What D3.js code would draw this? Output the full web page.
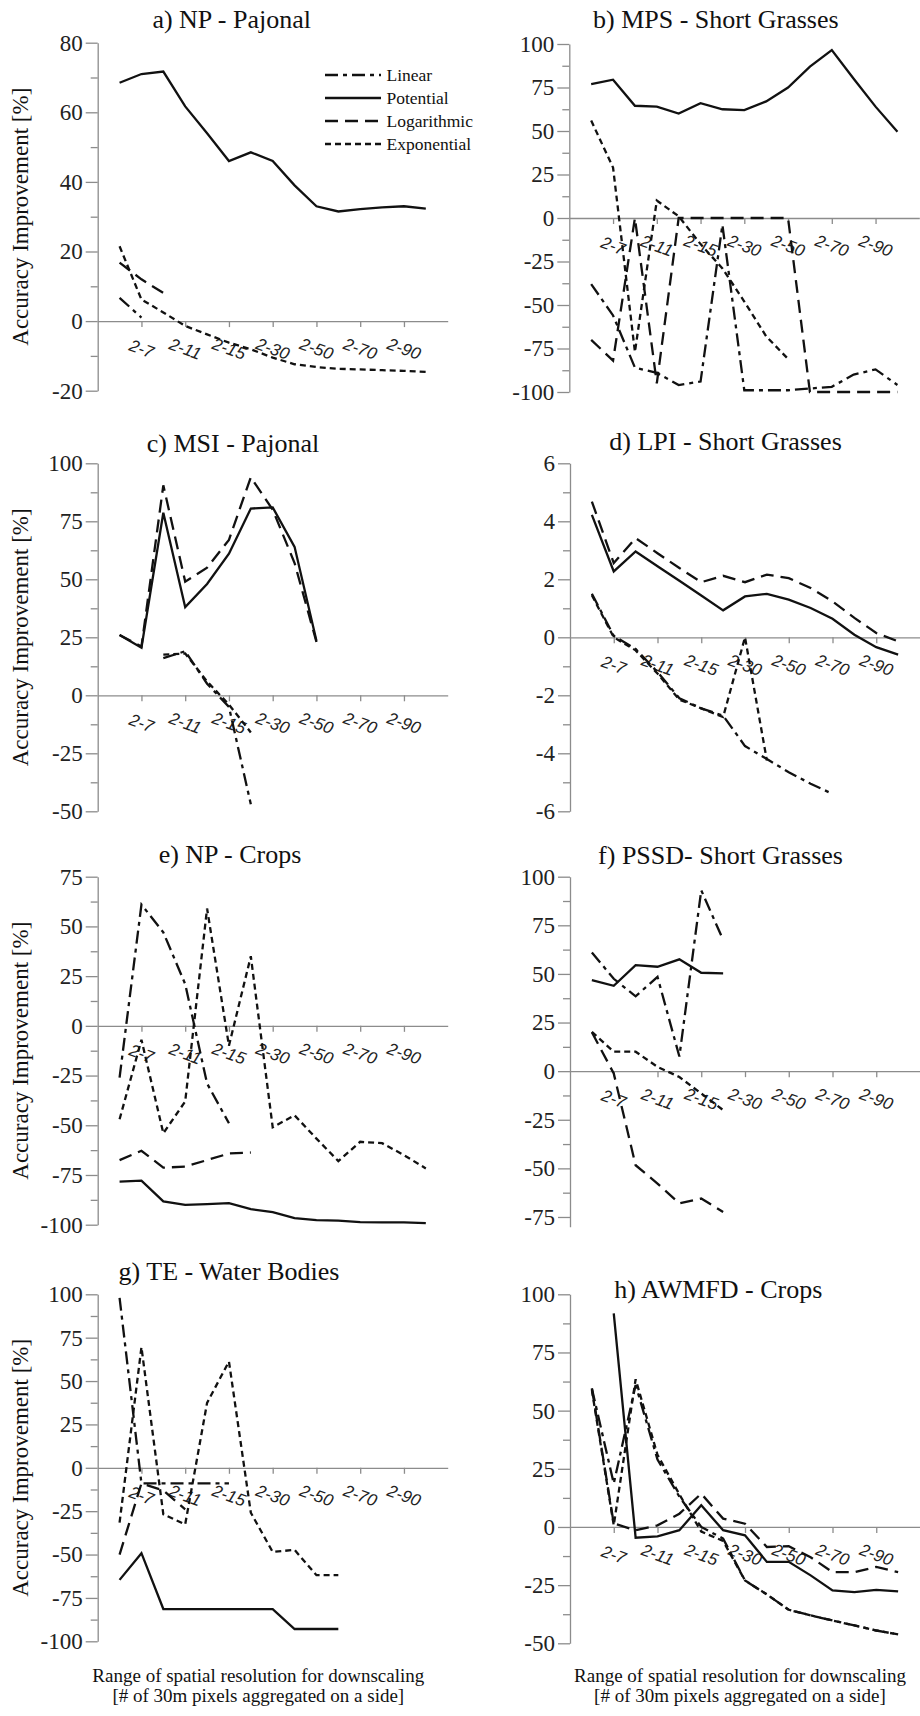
<!DOCTYPE html>
<html>
<head>
<meta charset="utf-8">
<script src="https://cdn.jsdelivr.net/npm/d3@7"></script>
<style>
  body { margin: 0; background: #fff; }
  svg { display: block; }
</style>
</head>
<body>
<svg id="chart" width="920" height="1716"></svg>
<script>
// tick labels on the x axis (one every second point), series names
const xLabels = ["2-7", "2-11", "2-15", "2-30", "2-50", "2-70", "2-90"];
const seriesNames = ["Linear", "Potential", "Logarithmic", "Exponential"];
const titles = ["a) NP - Pajonal", "b) MPS - Short Grasses", "c) MSI - Pajonal", "d) LPI - Short Grasses",
                "e) NP - Crops", "f) PSSD- Short Grasses", "g) TE - Water Bodies", "h) AWMFD - Crops"];

// values per point (point 1..15), null = no value
// a) NP - Pajonal
const aLinear      = [6.7, 1.0];
const aPotential   = [68.5, 71, 71.7, 61.7, 54, 46, 48.5, 46, 39, 33, 31.5, 32.2, 32.7, 33, 32.3];
const aLogarithmic = [16.8, 12, 8.1];
const aExponential = [21.5, 6.2, 2.5, -1.4, -3.8, -6.2, -8.1, -10.5, -12.4, -13.2, -13.7, -13.9, -14.1, -14.3, -14.6];

// b) MPS - Short Grasses
const bLinear      = [-38, -56, -86, -89, -96, -94, -4, -99, -99, -99, -98, -97, -90, -87, -96];
const bPotential   = [77, 79.5, 64.5, 64, 60, 66, 62.5, 62, 67, 75, 87, 96.5, 80, 64, 49.5];
const bLogarithmic = [-70, -82, 0, -95, 0, 0, 0, 0, 0, 0, -100, -100, -100, -100, -100];
const bExponential = [56, 29, -77, 10, 1, -15, -29, -48, -68, -81];

// c) MSI - Pajonal
const cLinear      = [null, null, 16, 19, 5, -5, -47];
const cPotential   = [26, 20.5, 78.7, 38, 48, 61, 80.5, 81, 64, 23.5];
const cLogarithmic = [26, 21, 90.5, 49, 55, 67, 94, 80, 57, 23];
const cExponential = [null, null, 17.5, 18, 6, -4, -16];

// d) LPI - Short Grasses
const dLinear      = [1.5, 0.05, -0.4, -1.2, -2.1, -2.45, -2.7, -3.75, -4.2, -4.65, -5.05, -5.4];
const dPotential   = [4.22, 2.27, 2.96, 2.45, 1.95, 1.44, 0.93, 1.41, 1.5, 1.3, 1.01, 0.64, 0.09, -0.34, -0.6];
const dLogarithmic = [4.68, 2.56, 3.42, 2.9, 2.39, 1.9, 2.12, 1.9, 2.16, 2.04, 1.7, 1.24, 0.67, 0.15, -0.14];
const dExponential = [1.45, 0.0, -0.45, -1.25, -2.15, -2.45, -2.75, 0, -4.25];

// e) NP - Crops
const eLinear      = [-26, 61, 47, 21, -29, -49];
const ePotential   = [-78.3, -77.8, -88.3, -90, -89.7, -89.2, -92.2, -93.7, -96.7, -97.7, -98, -98.7, -98.8, -98.8, -99.2];
const eLogarithmic = [-67.5, -62.8, -71.3, -70.8, -67.5, -64.2, -63.7];
const eExponential = [-47, -7, -54, -38, 59, -10, 35, -51, -45, -56.7, -68, -58.3, -59, -65, -71.7];

// f) PSSD- Short Grasses
const fLinear      = [61, 47.5, 38.5, 48.5, 7.5, 93, 67.5];
const fPotential   = [46.8, 43.9, 54.5, 53.7, 57.5, 50.6, 50.3];
const fLogarithmic = [20, -1.2, -48.4, -57.8, -68, -65.5, -72.4];
const fExponential = [20.2, 10, 10, 2.2, -3, -11.5, -20];

// g) TE - Water Bodies
const gLinear      = [98, -9, -9, -9, -9, -9];
const gPotential   = [-64.6, -49.2, -81.4, -81.4, -81.4, -81.4, -81.4, -81.4, -92.9, -92.9, -92.9];
const gLogarithmic = [-50, -9, -13, -24];
const gExponential = [-31.6, 69.5, -26.8, -32.6, 37.4, 61.3, -25.9, -48.5, -47.3, -61.9, -61.9];

// h) AWMFD - Crops
const hLinear      = [59.5, 18.7, 61, 29, 13, 0, -5, -23, -29, -35.6, -38, -40.2, -42.3, -44.5, -46.2];
const hPotential   = [null, 91.8, -4.6, -4, -1.4, 9.3, -1.4, -3.6, -15, -15, -20.8, -27.3, -28, -27, -27.7];
const hLogarithmic = [59.5, 1.5, -1.4, 0.7, 5.7, 14.3, 3.6, 1.4, -8.6, -8.3, -13, -19.4, -19.4, -17.2, -19.4];
const hExponential = [58.8, 0.7, 63.5, 31, 14, -2, -6, -23, -29, -35.6, -38, -40.2, -42.3, -44.5, -46.2];

const seriesData = [
    [aLinear, aPotential, aLogarithmic, aExponential],
    [bLinear, bPotential, bLogarithmic, bExponential],
    [cLinear, cPotential, cLogarithmic, cExponential],
    [dLinear, dPotential, dLogarithmic, dExponential],
    [eLinear, ePotential, eLogarithmic, eExponential],
    [fLinear, fPotential, fLogarithmic, fExponential],
    [gLinear, gPotential, gLogarithmic, gExponential],
    [hLinear, hPotential, hLogarithmic, hExponential]
]

// panel placement
const layout = [
    { left: 97.7, top: 42.7,   h: 348, yMin: -20,  yMax: 80,  step: 20, tx: 231.7, ty: 28.3 },
    { left: 569.3, top: 44,    h: 348, yMin: -100, yMax: 100, step: 25, tx: 715.8, ty: 28.3 },
    { left: 97.7, top: 463.3,  h: 348, yMin: -50,  yMax: 100, step: 25, tx: 233,   ty: 451.7 },
    { left: 570, top: 463.3,   h: 348, yMin: -6,   yMax: 6,   step: 2,  tx: 725.5, ty: 450 },
    { left: 97.7, top: 876.7,  h: 348, yMin: -100, yMax: 75,  step: 25, tx: 230,   ty: 863.3 },
    { left: 570, top: 876.7,   h: 350, yMin: -80,  yMax: 100, step: 25, tickMin: -75, tx: 720.5, ty: 864 },
    { left: 97.7, top: 1294.3, h: 347, yMin: -100, yMax: 100, step: 25, tx: 229,   ty: 1280 },
    { left: 570, top: 1294.3,  h: 349, yMin: -50,  yMax: 100, step: 25, tx: 718.3, ty: 1298.3 }
]

const dashes = ["13,5,4,5", null, "13,7", "6,4"]
const serif = '"Liberation Serif", "Times New Roman", serif'
const axisColor = "#8c8c8c"
const plotWidth = 350

const svg = d3.select("#chart")

layout.forEach((p, k) => {

    const x = d3.scaleLinear()
        .domain([0, 16])
        .range([p.left, p.left + plotWidth])

    const y = d3.scaleLinear()
        .domain([p.yMin, p.yMax])
        .range([p.top + p.h, p.top])

    const g = svg.append("g")

    const major = d3.range(p.tickMin ?? p.yMin, p.yMax + 1e-9, p.step)
    const minor = major.slice(0, -1).map(v => v + p.step / 2)

    // minor y ticks
    g.append("g")
        .attr("transform", `translate(${p.left},0)`)
        .call(d3.axisLeft(y).tickValues(minor).tickSize(7).tickFormat(""))
        .call(a => a.select(".domain").remove())

    // major y ticks and labels
    g.append("g")
        .attr("class", "y-axis")
        .attr("transform", `translate(${p.left},0)`)
        .call(d3.axisLeft(y).tickValues(major).tickSize(12).tickSizeOuter(0).tickPadding(3).tickFormat(d => String(d)))

    // x axis along the zero line
    const xTicks = xLabels.map((_, i) => 2 * (i + 1))
    g.append("g")
        .attr("transform", `translate(0,${y(0)})`)
        .call(d3.axisBottom(x).tickValues(xTicks).tickSize(6).tickSizeOuter(0).tickFormat(""))

    g.selectAll("path.domain, line").attr("stroke", axisColor).attr("stroke-width", 1.3)
    g.selectAll(".y-axis text")
        .attr("font-family", serif)
        .attr("font-size", 23)
        .attr("fill", "#222")

    g.selectAll(".x-label")
        .data(xLabels)
        .enter()
        .append("text")
        .attr("class", "x-label")
        .attr("transform", (d, i) => `translate(${x(xTicks[i])},${y(0) + 28}) rotate(20)`)
        .attr("text-anchor", "middle")
        .attr("dominant-baseline", "central")
        .attr("font-family", '"Liberation Sans", Arial, sans-serif')
        .attr("font-style", "italic")
        .attr("font-size", 17)
        .attr("fill", "#222")
        .text(d => d)

    // series lines
    const line = d3.line()
        .defined(d => d != null)
        .x((d, i) => x(i + 1))
        .y(d => y(d))

    seriesData[k].forEach((vals, s) => {
        g.append("path")
            .datum(vals)
            .attr("d", line)
            .attr("fill", "none")
            .attr("stroke", "#111")
            .attr("stroke-width", 2.3)
            .attr("stroke-dasharray", dashes[s])
    })

    // title
    svg.append("text")
        .attr("x", p.tx)
        .attr("y", p.ty)
        .attr("text-anchor", "middle")
        .attr("font-family", serif)
        .attr("font-size", 26)
        .attr("fill", "#111")
        .text(titles[k])

    // y axis title only in the left column
    if (k % 2 === 0) {
        svg.append("text")
            .attr("transform", `translate(28,${p.top + p.h / 2}) rotate(-90)`)
            .attr("text-anchor", "middle")
            .attr("font-family", serif)
            .attr("font-size", 23)
            .attr("fill", "#111")
            .text("Accuracy Improvement [%]")
    }
})

// legend (panel a)
const legend = svg.append("g")
seriesNames.forEach((name, s) => {
    const ly = 75 + s * 23
    legend.append("line")
        .attr("x1", 325).attr("x2", 381)
        .attr("y1", ly).attr("y2", ly)
        .attr("stroke", "#111")
        .attr("stroke-width", 2.3)
        .attr("stroke-dasharray", dashes[s])
    legend.append("text")
        .attr("x", 386.5)
        .attr("y", ly)
        .attr("dominant-baseline", "central")
        .attr("font-family", serif)
        .attr("font-size", 17.5)
        .attr("fill", "#111")
        .text(name)
})

// bottom axis titles
const bottomLines = ["Range of spatial resolution for downscaling", "[# of 30m pixels aggregated on a side]"]
;[258.3, 740].forEach(cx => {
    bottomLines.forEach((t, j) => {
        svg.append("text")
            .attr("x", cx)
            .attr("y", 1682 + j * 20)
            .attr("text-anchor", "middle")
            .attr("font-family", serif)
            .attr("font-size", 19)
            .attr("fill", "#111")
            .text(t)
    })
})
</script>
</body>
</html>
